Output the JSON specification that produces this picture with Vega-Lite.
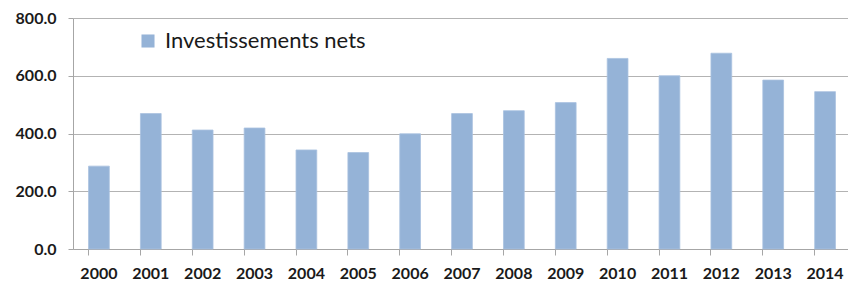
{
  "$schema": "https://vega.github.io/schema/vega-lite/v6.json",
  "autosize": {"type": "none"},
  "padding": {"left": 73, "top": 18, "right": 0, "bottom": 35},
  "width": 778,
  "height": 231,
  "background": "white",
  "data": {"values": [
    {"annee": "2000", "valeur": 287, "serie": "Investissements nets"},
    {"annee": "2001", "valeur": 469, "serie": "Investissements nets"},
    {"annee": "2002", "valeur": 412, "serie": "Investissements nets"},
    {"annee": "2003", "valeur": 419, "serie": "Investissements nets"},
    {"annee": "2004", "valeur": 343, "serie": "Investissements nets"},
    {"annee": "2005", "valeur": 334, "serie": "Investissements nets"},
    {"annee": "2006", "valeur": 399, "serie": "Investissements nets"},
    {"annee": "2007", "valeur": 469, "serie": "Investissements nets"},
    {"annee": "2008", "valeur": 479, "serie": "Investissements nets"},
    {"annee": "2009", "valeur": 507, "serie": "Investissements nets"},
    {"annee": "2010", "valeur": 660, "serie": "Investissements nets"},
    {"annee": "2011", "valeur": 600, "serie": "Investissements nets"},
    {"annee": "2012", "valeur": 678, "serie": "Investissements nets"},
    {"annee": "2013", "valeur": 585, "serie": "Investissements nets"},
    {"annee": "2014", "valeur": 545, "serie": "Investissements nets"}
  ]},
  "mark": {"type": "bar", "stroke": "#a9c2e0", "strokeWidth": 0.8},
  "encoding": {
    "x": {
      "field": "annee", "type": "ordinal",
      "scale": {"paddingInner": 0.6, "paddingOuter": 0.3},
      "axis": {
        "title": null, "labelAngle": 0, "bandPosition": 0,
        "labelFont": "Lato", "labelFontWeight": "bold", "labelFontSize": 16,
        "labelColor": "#1a1a1a", "labelPadding": 10,
        "domainColor": "#a6a6a6", "tickColor": "#a6a6a6", "tickSize": 6,
        "grid": false
      }
    },
    "y": {
      "field": "valeur", "type": "quantitative",
      "scale": {"domain": [0, 800], "nice": false},
      "axis": {
        "title": null, "values": [0, 200, 400, 600, 800], "format": ".1f",
        "labelFont": "Lato", "labelFontWeight": "bold", "labelFontSize": 16,
        "labelColor": "#1a1a1a", "labelPadding": 12,
        "domainColor": "#a6a6a6", "tickColor": "#a6a6a6", "tickSize": 5,
        "gridColor": "#b3b3b3", "gridWidth": 1
      }
    },
    "color": {
      "field": "serie", "type": "nominal",
      "scale": {"range": ["#95b3d7"]},
      "legend": {
        "title": null, "orient": "none", "legendX": 64, "legendY": 12,
        "symbolType": "square", "symbolSize": 170, "symbolStrokeWidth": 0,
        "labelFont": "Lato", "labelFontSize": 22, "labelColor": "#1a1a1a",
        "labelOffset": 6, "labelLimit": 500
      }
    }
  },
  "config": {"view": {"stroke": null}}
}
